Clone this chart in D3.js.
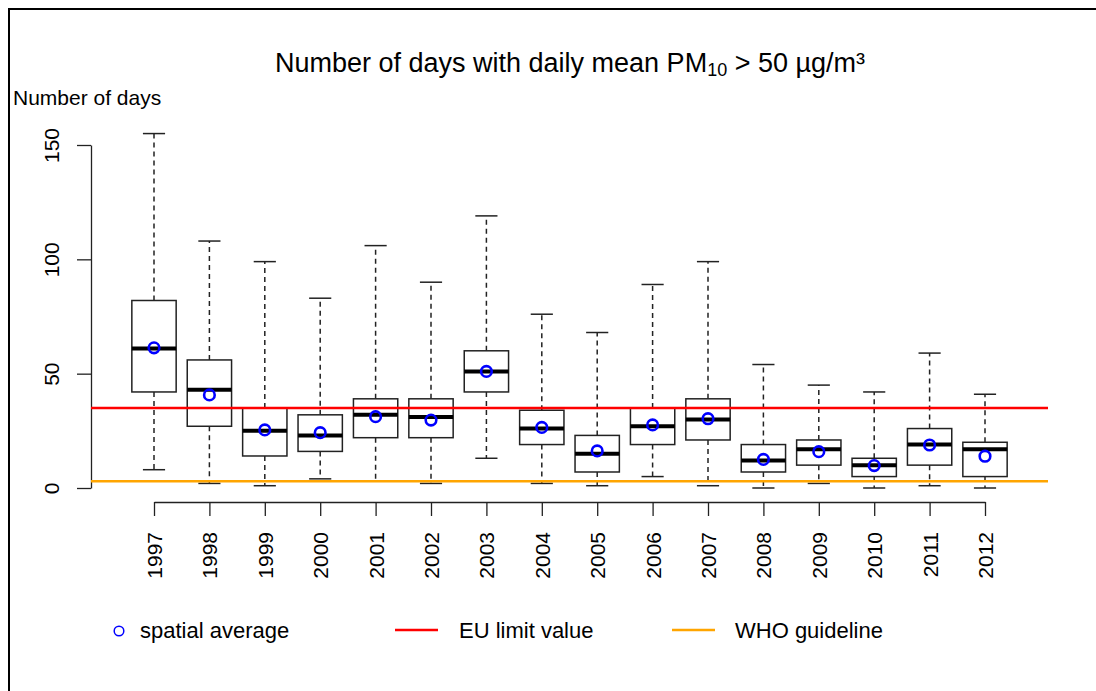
<!DOCTYPE html>
<html>
<head>
<meta charset="utf-8">
<script src="https://cdn.jsdelivr.net/npm/d3@7"></script>
<style>
  html, body { margin: 0; background: #fff; overflow: hidden; }
  svg { display: block; }
  text { font-family: "Liberation Sans", Arial, Helvetica, sans-serif; fill: #000; }
</style>
</head>
<body>
<script>
// years on the x axis
var years = ["1997", "1998", "1999", "2000", "2001", "2002", "2003", "2004",
             "2005", "2006", "2007", "2008", "2009", "2010", "2011", "2012"];

// box statistics per year (number of days)
var whiskerLow = [8, 2, 1, 4, 3, 2, 13, 2, 1, 5, 1, 0, 2, 0, 1, 0];
var boxLow     = [42, 27, 14, 16, 22, 22, 42, 19, 7, 19, 21, 7, 10, 5, 10, 5];
var medians    = [61, 43, 25, 23, 32, 31, 51, 26, 15, 27, 30, 12, 17, 10, 19, 17];
var boxHigh    = [82, 56, 35, 32, 39, 39, 60, 34, 23, 35, 39, 19, 21, 13, 26, 20];
var whiskerHigh = [155, 108, 99, 83, 106, 90, 119, 76, 68, 89, 99, 54, 45, 42, 59, 41];

// spatial average per year
var means = [61.3, 40.7, 25.4, 24.2, 31.2, 29.7, 51, 26.5, 16.2, 27.6, 30.3, 12.5, 15.9, 9.8, 18.8, 13.9];

// reference values
var euLimit = 35;
var whoGuideline = 3;
var yTicks = [0, 50, 100, 150];

var width = 1096, height = 691;

var svg = d3.select("body").append("svg")
    .attr("width", width)
    .attr("height", height);

svg.append("rect").attr("width", width).attr("height", height).attr("fill", "#fff");

// frame: only the left and top edges show in the picture
svg.append("path")
    .attr("d", "M9," + height + "V9H" + width)
    .attr("fill", "none")
    .attr("stroke", "#000")
    .attr("stroke-width", 2);

var xScale = d3.scalePoint().domain(years).range([154, 985]);
var yScale = d3.scaleLinear().domain([0, 150]).range([488, 145]);
var boxW = xScale.step() * 0.8;

var data = years.map(function (y, i) {
    return {year: y, lo: whiskerLow[i], q1: boxLow[i], med: medians[i],
            q3: boxHigh[i], hi: whiskerHigh[i], mean: means[i]};
});

// title
var title = svg.append("text")
    .attr("x", 570).attr("y", 72)
    .attr("text-anchor", "middle")
    .style("font-size", "27px");
title.append("tspan").text("Number of days with daily mean PM");
title.append("tspan").attr("dy", 4).style("font-size", "18px").text("10");
title.append("tspan").attr("dy", -4).text(" > 50 \u00b5g/m\u00b3");

// y axis title
svg.append("text")
    .attr("x", 13).attr("y", 105)
    .style("font-size", "21px")
    .text("Number of days");

// y axis
var yAxis = svg.append("g")
    .attr("transform", "translate(91,0)")
    .call(d3.axisLeft(yScale).tickValues(yTicks).tickSize(14).tickSizeOuter(0));
yAxis.selectAll("path, line").attr("stroke", "#222").attr("stroke-width", 1.3);
yAxis.selectAll("text")
    .attr("transform", "rotate(-90)")
    .attr("x", 0).attr("y", -32).attr("dy", 0)
    .style("text-anchor", "middle")
    .style("font-size", "21px")
    .style("font-family", "'Liberation Sans', Arial, sans-serif")
    .attr("fill", "#000");

// x axis
var xAxis = svg.append("g")
    .attr("transform", "translate(0,502)")
    .call(d3.axisBottom(xScale).tickSize(14).tickSizeOuter(0));
xAxis.selectAll("path, line").attr("stroke", "#222").attr("stroke-width", 1.3);
xAxis.selectAll("text")
    .attr("transform", "rotate(-90)")
    .attr("x", -30).attr("y", 0).attr("dy", "0.36em")
    .style("text-anchor", "end")
    .style("font-size", "21px")
    .style("font-family", "'Liberation Sans', Arial, sans-serif")
    .attr("fill", "#000");

// boxes
var boxes = svg.append("g").selectAll(".box").data(data)
    .enter().append("g")
    .classed("box", true)
    .attr("transform", function (d) { return "translate(" + xScale(d.year) + ",0)"; });

boxes.append("line")
    .attr("y1", function (d) { return yScale(d.q3); })
    .attr("y2", function (d) { return yScale(d.hi); })
    .attr("stroke", "#222").attr("stroke-width", 1.5).attr("stroke-dasharray", "5,4");
boxes.append("line")
    .attr("y1", function (d) { return yScale(d.q1); })
    .attr("y2", function (d) { return yScale(d.lo); })
    .attr("stroke", "#222").attr("stroke-width", 1.5).attr("stroke-dasharray", "5,4");
boxes.append("line")
    .attr("x1", -boxW / 4).attr("x2", boxW / 4)
    .attr("y1", function (d) { return yScale(d.hi); })
    .attr("y2", function (d) { return yScale(d.hi); })
    .attr("stroke", "#222").attr("stroke-width", 1.5);
boxes.append("line")
    .attr("x1", -boxW / 4).attr("x2", boxW / 4)
    .attr("y1", function (d) { return yScale(d.lo); })
    .attr("y2", function (d) { return yScale(d.lo); })
    .attr("stroke", "#222").attr("stroke-width", 1.5);
boxes.append("rect")
    .attr("x", -boxW / 2).attr("width", boxW)
    .attr("y", function (d) { return yScale(d.q3); })
    .attr("height", function (d) { return yScale(d.q1) - yScale(d.q3); })
    .attr("fill", "#fff")
    .attr("stroke", "#222").attr("stroke-width", 1.5);
boxes.append("line")
    .attr("x1", -boxW / 2).attr("x2", boxW / 2)
    .attr("y1", function (d) { return yScale(d.med); })
    .attr("y2", function (d) { return yScale(d.med); })
    .attr("stroke", "#000").attr("stroke-width", 4);

// reference lines
svg.append("line")
    .attr("x1", 91).attr("x2", 1048)
    .attr("y1", yScale(euLimit)).attr("y2", yScale(euLimit))
    .attr("stroke", "#ff0000").attr("stroke-width", 2.5);
svg.append("line")
    .attr("x1", 91).attr("x2", 1048)
    .attr("y1", yScale(whoGuideline)).attr("y2", yScale(whoGuideline))
    .attr("stroke", "#ffa500").attr("stroke-width", 2.5);

// spatial averages
svg.append("g").selectAll("circle").data(data)
    .enter().append("circle")
    .attr("cx", function (d) { return xScale(d.year); })
    .attr("cy", function (d) { return yScale(d.mean); })
    .attr("r", 5.3)
    .attr("fill", "none")
    .attr("stroke", "#0000ff")
    .attr("stroke-width", 2.6);

// legend
var legend = svg.append("g");
legend.append("circle")
    .attr("cx", 119).attr("cy", 631).attr("r", 4.8)
    .attr("fill", "none").attr("stroke", "#0000ff").attr("stroke-width", 1.5);
legend.append("text").attr("x", 140).attr("y", 638).style("font-size", "22px").text("spatial average");
legend.append("line")
    .attr("x1", 395).attr("x2", 438).attr("y1", 630).attr("y2", 630)
    .attr("stroke", "#ff0000").attr("stroke-width", 2.5);
legend.append("text").attr("x", 459).attr("y", 638).style("font-size", "22px").text("EU limit value");
legend.append("line")
    .attr("x1", 672).attr("x2", 715).attr("y1", 630).attr("y2", 630)
    .attr("stroke", "#ffa500").attr("stroke-width", 2.5);
legend.append("text").attr("x", 735).attr("y", 638).style("font-size", "22px").text("WHO guideline");
</script>
</body>
</html>
